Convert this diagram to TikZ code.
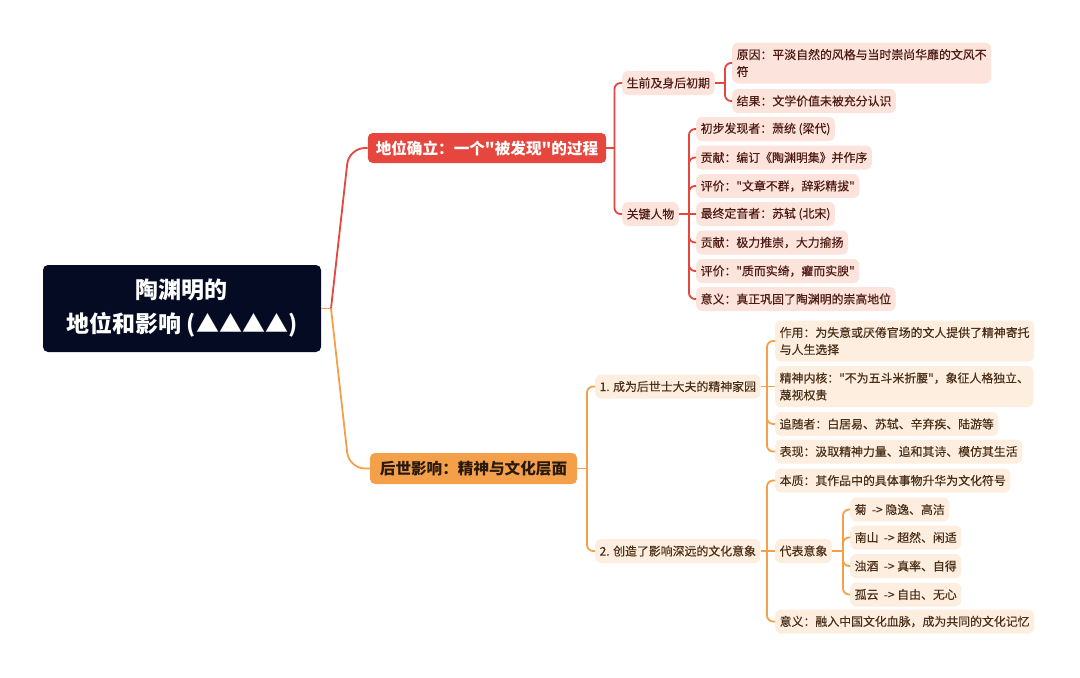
\documentclass[tikz,border=0pt]{standalone}
\usepackage{fontspec}
\newfontfamily\cjk{Noto Sans CJK SC}
\newfontfamily\cjkm[FakeBold=0.3]{Noto Sans CJK SC}
\definecolor{rootc}{HTML}{050B22}
\definecolor{redc}{HTML}{E5463D}
\definecolor{pinkc}{HTML}{FCE3DB}
\definecolor{redtxt}{HTML}{4E1A14}
\definecolor{orangec}{HTML}{F4A04A}
\definecolor{peachc}{HTML}{FDEEDF}
\definecolor{browntxt}{HTML}{4A2E18}
\definecolor{darktxt}{HTML}{2A1A0E}
\tikzset{
  rootbox/.style={fill=rootc, text=white, rounded corners=5pt, align=center,
    minimum width=278, minimum height=87, inner sep=0,
    font=\cjk\bfseries\fontsize{23}{34}\selectfont},
  redbranch/.style={fill=redc, text=white, rounded corners=5pt, minimum height=30,
    inner xsep=8, inner ysep=0, font=\cjk\bfseries\fontsize{15.6}{20}\selectfont},
  orangebranch/.style={fill=orangec, text=darktxt, rounded corners=5pt, minimum height=31,
    inner xsep=8, inner ysep=0, font=\cjk\bfseries\fontsize{15.6}{20}\selectfont},
  rleaf/.style={fill=pinkc, text=redtxt, rounded corners=6pt, anchor=west, align=left,
    inner xsep=4.5, inner ysep=0, minimum height=24,
    font=\cjkm\fontsize{11.9}{17}\selectfont},
  oleaf/.style={rleaf, fill=peachc, text=browntxt},
  twoline/.style={minimum height=41},
  redline/.style={draw=redc, line width=1.8pt},
  orangeline/.style={draw=orangec, line width=1.8pt},
}
\begin{document}
\begin{tikzpicture}[x=1pt,y=-1pt]
\useasboundingbox (0,0) rectangle (1080,678);

% root and branches
\node[rootbox] (root) at (182,308.5) {陶渊明的\\地位和影响 (▲▲▲▲)};
\node[redbranch, minimum width=234] (b1) at (487,148) {地位确立：一个"被发现"的过程};
\node[orangebranch, minimum width=207] (b2) at (473.5,468.5) {后世影响：精神与文化层面};

\coordinate (j0) at (331,308.5);
\draw[orangeline] (root.east) -- (j0);
\draw[redline, rounded corners=16pt] (j0) -- (349,148) -- (b1.west);
\draw[orangeline, rounded corners=16pt] (j0) -- (349,468.5) -- (b2.west);

% branch 1, level 2
\node[rleaf] (c11) at (622,83) {生前及身后初期};
\node[rleaf] (c12) at (622,214) {关键人物};
\coordinate (j1) at (614.5,148);
\draw[redline] (b1.east) -- (j1);
\draw[redline, rounded corners=6pt] (j1) |- (c11.west);
\draw[redline, rounded corners=6pt] (j1) |- (c12.west);

% level 3 under c11
\node[rleaf, twoline] (c111) at (732,63) {原因：平淡自然的风格与当时崇尚华靡的文风不\\符};
\node[rleaf] (c112) at (732,101) {结果：文学价值未被充分认识};
\coordinate (j11) at (725,83);
\draw[redline] (c11.east) -- (j11);
\draw[redline, rounded corners=6pt] (j11) |- (c111.west);
\draw[redline, rounded corners=6pt] (j11) |- (c112.west);

% level 3 under c12
\node[rleaf] (k1) at (696,129) {初步发现者：萧统 (梁代)};
\node[rleaf] (k2) at (696,157.5) {贡献：编订《陶渊明集》并作序};
\node[rleaf] (k3) at (696,186) {评价："文章不群，辞彩精拔"};
\node[rleaf] (k4) at (696,214) {最终定音者：苏轼 (北宋)};
\node[rleaf] (k5) at (696,242.5) {贡献：极力推崇，大力揄扬};
\node[rleaf] (k6) at (696,271) {评价："质而实绮，癯而实腴"};
\node[rleaf] (k7) at (696,299) {意义：真正巩固了陶渊明的崇高地位};
\coordinate (j12) at (689,214);
\draw[redline] (c12.east) -- (k4.west);
\foreach \k in {k1,k2,k3,k5,k6,k7}{
  \draw[redline, rounded corners=6pt] (j12) |- (\k.west);
}

% branch 2, level 2
\node[oleaf] (d1) at (595,386.5) {1. 成为后世士大夫的精神家园};
\node[oleaf] (d2) at (595,551) {2. 创造了影响深远的文化意象};
\coordinate (j2) at (587,468.5);
\draw[orangeline] (b2.east) -- (j2);
\draw[orangeline, rounded corners=6pt] (j2) |- (d1.west);
\draw[orangeline, rounded corners=6pt] (j2) |- (d2.west);

% level 3 under d1
\node[oleaf, twoline] (e1) at (775,341) {作用：为失意或厌倦官场的文人提供了精神寄托\\与人生选择};
\node[oleaf, twoline] (e2) at (775,386.5) {精神内核："不为五斗米折腰"，象征人格独立、\\蔑视权贵};
\node[oleaf] (e3) at (775,424) {追随者：白居易、苏轼、辛弃疾、陆游等};
\node[oleaf] (e4) at (775,451.5) {表现：汲取精神力量、追和其诗、模仿其生活};
\coordinate (j21) at (767,386.5);
\draw[orangeline] (d1.east) -- (e2.west);
\foreach \k in {e1,e3,e4}{
  \draw[orangeline, rounded corners=6pt] (j21) |- (\k.west);
}

% level 3 under d2
\node[oleaf] (f1) at (775,480.5) {本质：其作品中的具体事物升华为文化符号};
\node[oleaf] (f2) at (775,551) {代表意象};
\node[oleaf] (f3) at (775,621.5) {意义：融入中国文化血脉，成为共同的文化记忆};
\coordinate (j22) at (767,551);
\draw[orangeline] (d2.east) -- (f2.west);
\draw[orangeline, rounded corners=6pt] (j22) |- (f1.west);
\draw[orangeline, rounded corners=6pt] (j22) |- (f3.west);

% level 4 under f2
\node[oleaf] (g1) at (850,509.5) {菊\ \ -> 隐逸、高洁};
\node[oleaf] (g2) at (850,537.5) {南山\ \ -> 超然、闲适};
\node[oleaf] (g3) at (850,566) {浊酒\ \ -> 真率、自得};
\node[oleaf] (g4) at (850,594.5) {孤云\ \ -> 自由、无心};
\coordinate (j23) at (843,551);
\draw[orangeline] (f2.east) -- (j23);
\foreach \k in {g1,g2,g3,g4}{
  \draw[orangeline, rounded corners=6pt] (j23) |- (\k.west);
}
\end{tikzpicture}
\end{document}
